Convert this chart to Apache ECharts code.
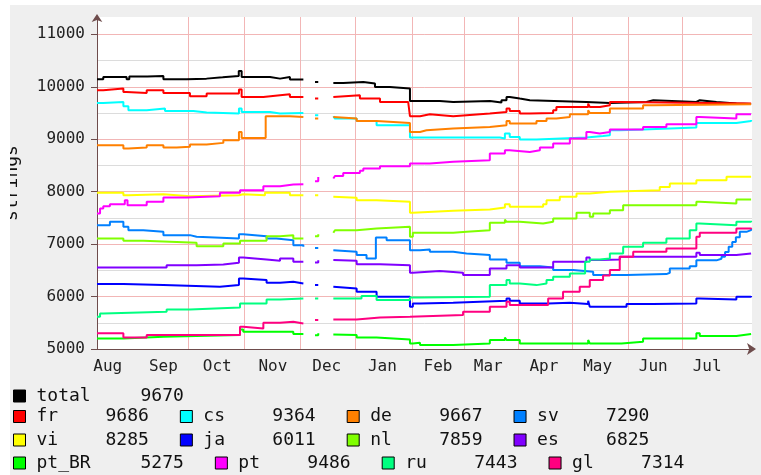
<!DOCTYPE html>
<html>
<head>
<meta charset="utf-8">
<script src="https://cdn.jsdelivr.net/npm/echarts@6/dist/echarts.min.js"></script>
<style>
html,body{margin:0;padding:0;background:#fff;width:761px;height:475px;overflow:hidden}
#c{position:absolute;left:10px;top:5px;width:751px;height:470px}
</style>
</head>
<body>
<div id="c"></div>
<script>
// x values are day numbers counted from the first sample (late July)
const monthNames = ['Aug','Sep','Oct','Nov','Dec','Jan','Feb','Mar','Apr','May','Jun','Jul'];
const monthStartDays = [6, 37, 67, 98, 128, 159, 190, 218, 249, 279, 310, 340];
const gridDays = [22, 51, 82, 113, 144, 175.5, 204.5, 234.5, 265, 296, 326, 356.5];

const seriesNames = ['total','fr','cs','de','sv','vi','ja','nl','es','pt_BR','pt','ru','gl'];
const finalValues = [9670, 9686, 9364, 9667, 7290, 8285, 6011, 7859, 6825, 5275, 9486, 7443, 7314];

const total = [[0,10143],[3.5,10187],[16.5,10143],[18,10195],[28,10206],[37,10143],[50,10155],[61,10180],[70,10206],[79,10300],[80.6,10187],[96.4,10155],[102,10187],[107.5,10136],[115,10136],[115.2,null],[121.5,10092],[123.3,10092],[123.5,null],[131.7,10073],[137.2,10092],[148.4,10060],[154.9,9997],[163.2,9965],[174.4,9730],[191,9711],[198.5,9730],[219,9698],[225.4,9743],[228.2,9806],[230,9774],[235.6,9743],[241.2,9711],[272.7,9692],[285.8,9711],[306.2,9743],[310,9711],[334,9743],[335.9,9711],[345.2,9679],[356.3,9670],[364.5,9670]];
const fr = [[0,9933],[3.5,9965],[14.7,9901],[16.5,9882],[27.7,9933],[37,9882],[51.8,9819],[61.1,9870],[79.1,9946],[80.6,9806],[92.7,9838],[102,9857],[107.5,9806],[115,9806],[115.2,null],[121.5,9774],[123.3,9774],[123.5,null],[131.7,9806],[132.6,9838],[146.5,9774],[157.7,9711],[173.4,9711],[174.4,9438],[180,9476],[185.5,9438],[198.5,9457],[205.9,9489],[218.9,9520],[228.2,9584],[230,9539],[235.6,9489],[241.2,9501],[254.2,9552],[256,9616],[273.7,9679],[274.6,9616],[280.2,9647],[285.8,9711],[291.3,9679],[364.5,9686]];
const cs = [[0,9692],[3.5,9711],[14.7,9630],[17.5,9552],[27.7,9584],[37.9,9539],[53.7,9508],[61.1,9489],[79.1,9584],[80.6,9520],[96.4,9489],[102,9501],[115,9501],[115.2,null],[121.5,9457],[123.3,9457],[123.5,null],[131.7,9438],[132.6,9393],[144.7,9349],[155.8,9266],[174.4,9031],[224.5,9012],[227.3,9107],[230,9044],[235.6,8993],[244.9,9031],[272.7,9060],[282,9076],[285.8,9171],[291.3,9184],[304.3,9222],[334,9311],[356.3,9349],[364.5,9364]];
const de = [[0,8885],[14.7,8822],[17.5,8841],[27.7,8885],[37,8841],[44.4,8854],[51.8,8898],[61.1,8930],[70.4,8980],[79.1,9139],[80.6,9025],[94,9438],[107.5,9425],[115,9425],[115.2,null],[121.5,9393],[123.3,9393],[123.5,null],[131.7,9425],[132.6,9393],[144.7,9349],[155.8,9311],[174.4,9139],[180,9171],[183.6,9203],[198.5,9235],[218.9,9266],[228.2,9349],[230,9298],[244.9,9349],[250.5,9393],[256,9425],[263.5,9476],[273.7,9552],[274.6,9501],[285.8,9584],[304.3,9647],[309.9,9666],[364.5,9667]];
const sv = [[0,7361],[7.2,7425],[14.7,7330],[17.5,7266],[25.8,7234],[37,7171],[51.8,7139],[55.5,7107],[79.1,7190],[81.5,7152],[94.5,7107],[100,7075],[109.4,6980],[115,6949],[115.2,null],[121.5,6924],[123.3,6924],[123.5,null],[131.7,6885],[132.6,6853],[144.7,6790],[150.2,6726],[155.4,7126],[161.4,7075],[174.4,6885],[180,6898],[185.5,6853],[198.5,6821],[205.9,6790],[218.9,6707],[228.2,6644],[235.6,6580],[246.8,6555],[254.2,6504],[265.3,6472],[276.5,6409],[295.1,6428],[317.3,6453],[319.2,6536],[330.3,6580],[334,6690],[345.2,6720],[348,6760],[350,6850],[352,6950],[354,7040],[356,7130],[358.2,7234],[361.9,7266],[364.5,7290]];
const vi = [[0,7977],[14.7,7933],[17.5,7952],[37,7914],[51.8,7933],[79.1,7952],[81.5,7933],[93.6,7977],[107.5,7933],[115,7933],[115.2,null],[121.5,7933],[123.3,7933],[123.5,null],[131.7,7901],[132.6,7882],[144.7,7838],[155.8,7806],[174.4,7596],[176,7634],[198.5,7660],[218.9,7698],[227.3,7761],[230,7711],[248.6,7761],[250.5,7838],[257.9,7901],[267.2,7965],[274.6,7996],[285.8,8028],[313.6,8091],[319.2,8155],[334,8219],[350.8,8282],[364.5,8285]];
const ja = [[0,6237],[14.7,6218],[37,6187],[68.5,6218],[79.1,6345],[81.5,6314],[94.5,6263],[102,6282],[109.4,6250],[115,6250],[115.2,null],[121.5,6218],[123.3,6218],[123.5,null],[131.7,6187],[132.6,6155],[144.7,6091],[155.8,5996],[174.4,5806],[176,5869],[180,5882],[198.5,5920],[228.2,5964],[230,5920],[235.6,5869],[251.4,5882],[263.5,5856],[273.7,5920],[274.6,5806],[295.1,5856],[309.9,5869],[334,5964],[335.9,5945],[356.3,5996],[364.5,6011]];
const nl = [[0,7107],[14.7,7063],[25.8,7025],[55.5,6961],[70.4,7012],[79.7,7063],[94.5,7152],[102,7171],[109.4,7107],[115,7107],[115.2,null],[121.5,7150],[123.3,7190],[123.5,null],[131.7,7215],[132.6,7266],[144.7,7298],[155.8,7330],[174.4,7139],[176,7215],[198.5,7234],[205.9,7266],[218.9,7406],[227.3,7469],[228.2,7425],[235.6,7393],[248.6,7425],[254.2,7488],[267.2,7596],[274.6,7520],[276.5,7584],[285.8,7647],[293.2,7742],[334,7806],[335.9,7774],[356.3,7850],[364.5,7859]];
const es = [[0,6555],[38.8,6599],[55.5,6612],[70.4,6644],[79.1,6745],[81.5,6707],[94.5,6682],[102,6726],[109.4,6663],[115,6663],[115.2,null],[121.5,6650],[123.3,6690],[123.5,null],[131.7,6695],[132.6,6682],[144.7,6618],[157.7,6599],[174.4,6453],[176,6485],[191,6453],[204,6409],[218.9,6536],[228.2,6599],[235.6,6555],[254.2,6663],[272.7,6745],[274.6,6695],[280.2,6707],[291.3,6758],[334,6834],[335.9,6790],[356.3,6822],[364.5,6825]];
const ptBR = [[0,5202],[14.7,5234],[37,5266],[79.7,5374],[81.5,5329],[109.4,5285],[115,5285],[115.2,null],[121.5,5260],[123.3,5300],[123.5,null],[131.7,5278],[132.6,5266],[144.7,5221],[155.8,5183],[174.4,5107],[176,5120],[180,5075],[198.5,5107],[218.9,5171],[227.3,5221],[228.2,5171],[235.6,5107],[273.7,5171],[274.6,5107],[292.3,5139],[304.3,5202],[334,5298],[335.9,5247],[356.3,5285],[364.5,5275]];
const pt = [[0,7584],[1.7,7680],[3.5,7720],[7.2,7761],[15.5,7838],[17,7742],[27.7,7806],[37,7888],[50,7914],[68.5,7977],[79.7,8028],[92.7,8104],[102,8136],[109.4,8142],[115,8142],[115.2,null],[121.5,8200],[123.3,8280],[123.5,null],[131.7,8250],[132.6,8300],[137.2,8358],[146.5,8400],[148.4,8441],[157.7,8485],[174.4,8536],[185.5,8568],[198.5,8600],[218.9,8727],[227.3,8790],[230,8758],[241.2,8790],[246.8,8841],[254.2,8917],[263.5,9012],[272.7,9139],[274.6,9107],[280.2,9139],[285.8,9184],[304.3,9235],[317.3,9285],[334,9425],[335.9,9393],[356.3,9476],[364.5,9486]];
const ru = [[0,5615],[1.7,5679],[3.5,5710],[38.8,5755],[51.8,5793],[79.7,5869],[94.5,5945],[102,5964],[115,5964],[115.2,null],[121.5,5964],[123.3,5964],[123.5,null],[131.7,5964],[147.4,6009],[155.8,5932],[174.4,5983],[180,5996],[218.9,6218],[228.2,6314],[230,6250],[235.6,6218],[244.9,6250],[250.5,6314],[254.2,6377],[263.5,6440],[272,6663],[274.6,6707],[280.2,6726],[285.8,6821],[293.2,6949],[304.3,7025],[317.3,7107],[330.3,7266],[334,7393],[335.9,7361],[356.3,7425],[364.5,7443]];
const gl = [[0,5298],[14.7,5221],[27.7,5266],[79.7,5425],[81.5,5393],[92.7,5501],[102,5520],[109.4,5488],[115,5488],[115.2,null],[121.5,5552],[123.3,5552],[123.5,null],[131.7,5564],[144.7,5602],[157.7,5615],[174.4,5647],[204,5710],[218.9,5806],[228.2,5900],[230,5837],[251.4,5964],[259.7,6091],[269,6187],[274.6,6314],[282,6400],[285.8,6504],[291.3,6758],[298.8,6853],[317.3,6917],[334,7139],[335.9,7215],[356.3,7298],[364.5,7314]];

const seriesData = [total, fr, cs, de, sv, vi, ja, nl, es, ptBR, pt, ru, gl];
const seriesColors = ['#000000','#ff0000','#00ffff','#ff8000','#0080ff','#ffff00','#0000ff','#80ff00','#8000ff','#00ff00','#ff00ff','#00ff80','#ff0080'];

const legendRows = [['total'], ['fr','cs','de','sv'], ['vi','ja','nl','es'], ['pt_BR','pt','ru','gl']];
const legendTops = [382, 402.5, 426, 449];

const MONO = 'DejaVu Sans Mono';

const chart = echarts.init(document.getElementById('c'), null, {renderer: 'canvas'});

const series = seriesNames.map((name, i) => ({
  name: name,
  type: 'line',
  step: 'end',
  symbol: 'none',
  showSymbol: false,
  connectNulls: false,
  color: seriesColors[i],
  lineStyle: {width: 2, color: seriesColors[i]},
  animation: false,
  data: seriesData[i].map(p => p[1] === null ? [p[0], '-'] : p)
}));

const legends = legendRows.map((row, r) => ({
  data: row,
  left: 3,
  top: legendTops[r],
  orient: 'horizontal',
  padding: 0,
  itemGap: 31,
  itemWidth: 12,
  itemHeight: 12,
  icon: 'rect',
  selectedMode: false,
  itemStyle: {borderColor: '#000', borderWidth: 1},
  textStyle: {
    fontFamily: MONO, fontSize: 18, color: '#111',
    rich: {
      s: {width: 6, fontFamily: MONO, fontSize: 18},
      n: {width: 69, fontFamily: MONO, fontSize: 18, color: '#111'},
      nl: {width: 104, fontFamily: MONO, fontSize: 18, color: '#111'},
      v: {fontFamily: MONO, fontSize: 18, color: '#111'}
    }
  },
  formatter: function (name) {
    const v = finalValues[seriesNames.indexOf(name)];
    const key = name.length > 2 ? 'nl' : 'n';
    return '{s| }{' + key + '|' + name + '}{v|' + v + '}';
  }
}));

const axisColor = '#6e4c4c';

chart.setOption({
  animation: false,
  backgroundColor: '#efefef',
  grid: {
    left: 87, top: 12, right: 9, bottom: 126,
    show: true, backgroundColor: '#ffffff', borderWidth: 0,
    containLabel: false, outerBoundsMode: 'none'
  },
  legend: legends,
  xAxis: {
    type: 'value',
    min: 0, max: 365,
    axisLine: {show: true, onZero: false, symbol: ['none', 'arrow'], symbolSize: [9, 9], symbolOffset: [0, 4], lineStyle: {color: axisColor, width: 1}},
    axisTick: {show: false, customValues: gridDays},
    axisLabel: {
      customValues: monthStartDays,
      margin: 10,
      fontFamily: MONO, fontSize: 16, color: '#222',
      formatter: function (v) {
        const i = monthStartDays.indexOf(v);
        return i >= 0 ? monthNames[i] : '';
      }
    },
    splitLine: {show: true, showMinLine: false, showMaxLine: false, lineStyle: {color: '#f2b6b6', width: 1}}
  },
  yAxis: [
    {
      type: 'value',
      min: 5000, max: 11330, interval: 1000,
      z: 1,
      name: 'strings',
      nameLocation: 'middle',
      nameGap: 76,
      nameMoveOverlap: false,
      nameRotate: 90,
      nameTextStyle: {fontFamily: MONO, fontSize: 18, color: '#111'},
      axisLine: {show: true, symbol: ['none', 'arrow'], symbolSize: [8, 8], symbolOffset: [0, 3], lineStyle: {color: axisColor, width: 1}},
      axisTick: {show: true, length: 6, lineStyle: {color: axisColor}},
      axisLabel: {showMaxLabel: false, margin: 12, fontFamily: MONO, fontSize: 16, color: '#222',
        formatter: function (v) { return String(v); }},
      splitLine: {show: true, showMinLine: false, showMaxLine: false, lineStyle: {color: '#f2b6b6', width: 1}}
    },
    {
      type: 'value',
      min: 5000, max: 11330, interval: 500,
      z: 0,
      position: 'left',
      axisLine: {show: false},
      axisTick: {show: false},
      axisLabel: {show: false},
      splitLine: {show: true, showMinLine: false, showMaxLine: false, lineStyle: {color: '#dcdcdc', width: 1}}
    }
  ],
  series: series
});
</script>
</body>
</html>
